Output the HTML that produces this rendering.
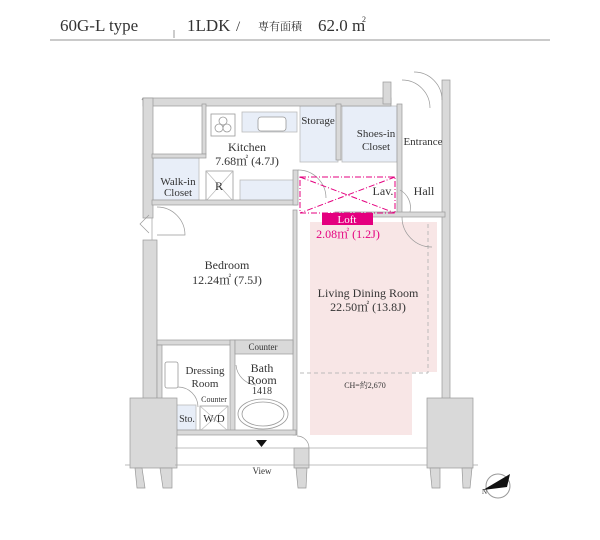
<!DOCTYPE html>
<html><head><meta charset="utf-8"><style>
html,body{margin:0;padding:0;background:#fff;}
svg{display:block;}
text{font-family:"Liberation Serif","Noto Serif CJK SC",serif;fill:#333;}
</style></head><body>
<svg width="600" height="540" viewBox="0 0 600 540" xmlns="http://www.w3.org/2000/svg">
<!-- header -->
<text x="60" y="31" font-size="17" fill="#444">60G-L type</text>
<line x1="174" y1="30" x2="174" y2="38" stroke="#999"/>
<text x="187" y="31" font-size="17">1LDK</text>
<text x="236" y="31" font-size="15">/</text>
<text x="258" y="30" font-size="11" font-family="'Noto Serif CJK SC',serif">専有面積</text>
<text x="318" y="31" font-size="17">62.0 m</text>
<text x="362" y="22" font-size="8">2</text>
<line x1="50" y1="40" x2="550" y2="40" stroke="#aaa" stroke-width="1.3"/>

<!-- LDR pink -->
<path d="M310 222 H437 V372 H412 V435 H310 Z" fill="#f8e6e6"/>
<path d="M300 373 H428 M428 224 V373" stroke="#bbb" stroke-dasharray="4,3" fill="none"/>

<!-- light blue fixtures -->
<g fill="#e8eef8" stroke="#bbb" stroke-width="0.8">
<rect x="153" y="158" width="46" height="42"/>
<rect x="242" y="112" width="55" height="20"/>
<rect x="240" y="180" width="57" height="22"/>
<rect x="300" y="106" width="38" height="56"/>
<rect x="342" y="106" width="55" height="56"/>
<rect x="176" y="405" width="20" height="25"/>
</g>
<g fill="#fff" stroke="#999" stroke-width="0.8">
<rect x="211" y="114" width="24" height="22"/>
<circle cx="219" cy="128" r="4"/><circle cx="227" cy="128" r="4"/><circle cx="223" cy="121" r="4"/>
<rect x="258" y="117" width="28" height="14" rx="3"/>
<rect x="206" y="171" width="27" height="30"/>
<rect x="200" y="406" width="28" height="25"/>
<rect x="165" y="362" width="13" height="26" rx="2"/>
<ellipse cx="263" cy="414" rx="25" ry="15"/>
<ellipse cx="263" cy="414" rx="21" ry="12"/>
</g>
<g stroke="#bbb" stroke-width="0.7">
<line x1="206" y1="171" x2="233" y2="201"/><line x1="233" y1="171" x2="206" y2="201"/>
<line x1="200" y1="406" x2="228" y2="431"/><line x1="228" y1="406" x2="200" y2="431"/>
</g>

<!-- walls -->
<g fill="#d9d9d9" stroke="#999" stroke-width="0.7">
<rect x="143" y="98" width="248" height="8"/>
<rect x="383" y="82" width="8" height="22"/>
<rect x="442" y="80" width="8" height="320"/>
<rect x="143" y="98" width="10" height="120"/>
<rect x="143" y="240" width="14" height="160"/>
<rect x="152" y="200" width="145" height="5"/>
<rect x="293" y="170" width="5" height="35"/>
<rect x="202" y="104" width="4" height="50"/>
<rect x="152" y="154" width="54" height="4"/>
<rect x="293" y="210" width="4" height="225"/>
<rect x="157" y="340" width="136" height="5"/>
<rect x="230" y="340" width="5" height="92"/>
<rect x="235" y="340" width="58" height="14"/>
<rect x="157" y="345" width="5" height="88"/>
<rect x="172" y="430" width="124" height="5"/>
<rect x="336" y="104" width="5" height="56"/>
<rect x="397" y="104" width="5" height="110"/>
<rect x="335" y="212" width="110" height="5"/>
<rect x="130" y="398" width="47" height="70"/>
<path d="M135 468 H142 L145 488 H137 Z M160 468 H172 L172 488 H163 Z"/>
<rect x="294" y="448" width="15" height="20"/>
<path d="M296 468 H307 L306 488 H298 Z"/>
<rect x="427" y="398" width="46" height="70"/>
<path d="M430 468 H440 L440 488 H432 Z M462 468 H472 L470 488 H463 Z"/>
</g>
<line x1="142" y1="100" x2="143" y2="98" stroke="#999"/>
<!-- window lines -->
<g stroke="#aaa" stroke-width="0.8">
<line x1="175" y1="448" x2="427" y2="448"/>
<line x1="175" y1="465" x2="427" y2="465"/>
<line x1="125" y1="465" x2="130" y2="465"/>
<line x1="473" y1="465" x2="478" y2="465"/>
<line x1="152" y1="240" x2="152" y2="218"/>
</g>
<!-- doors -->
<g fill="none" stroke="#999" stroke-width="0.7">
<path d="M157 207 A28 28 0 0 1 185 235 H157"/>
<path d="M298 170 A28 28 0 0 1 326 198"/>
<path d="M402 80 A28 28 0 0 1 430 108"/>
<path d="M442 100 A28 28 0 0 0 414 72"/>
<path d="M402 217 A30 30 0 0 0 432 247"/>
<path d="M400 190 A20 20 0 0 1 410 212"/>
<path d="M236 365 A22 22 0 0 0 256 385"/>
<path d="M178 387 A20 20 0 0 1 198 407"/>
<path d="M297 436 A12 12 0 0 1 309 448"/>
<path d="M149 215 L140 224 L149 233"/>
</g>
<!-- loft -->
<g stroke="#e4007f" stroke-width="1" fill="none" stroke-dasharray="6,2,1,2">
<rect x="300" y="177" width="95" height="36"/>
<line x1="300" y1="177" x2="395" y2="213"/><line x1="395" y1="177" x2="300" y2="213"/>
</g>
<rect x="322" y="213" width="51" height="12" fill="#e4007f"/>
<text x="347" y="223" font-size="11" text-anchor="middle" style="fill:#fff">Loft</text>
<text x="348" y="238" font-size="12" text-anchor="middle" style="fill:#e4007f">2.08㎡ (1.2J)</text>

<!-- labels -->
<g font-size="12" text-anchor="middle">
<text x="247" y="151">Kitchen</text>
<text x="247" y="165">7.68㎡ (4.7J)</text>
<text x="318" y="124" font-size="11">Storage</text>
<text x="376" y="137" font-size="11">Shoes-in</text>
<text x="376" y="150" font-size="11">Closet</text>
<text x="423" y="145" font-size="11">Entrance</text>
<text x="178" y="185" font-size="11">Walk-in</text>
<text x="178" y="196" font-size="11">Closet</text>
<text x="219" y="190">R</text>
<text x="383" y="195">Lav.</text>
<text x="424" y="195">Hall</text>
<text x="227" y="269">Bedroom</text>
<text x="227" y="284">12.24㎡ (7.5J)</text>
<text x="368" y="297">Living Dining Room</text>
<text x="368" y="311">22.50㎡ (13.8J)</text>
<text x="263" y="350" font-size="9">Counter</text>
<text x="205" y="374" font-size="11">Dressing</text>
<text x="205" y="387" font-size="11">Room</text>
<text x="262" y="372">Bath</text>
<text x="262" y="384">Room</text>
<text x="262" y="394" font-size="10">1418</text>
<text x="214" y="402" font-size="8">Counter</text>
<text x="187" y="422" font-size="10">Sto.</text>
<text x="214" y="422" font-size="11">W/D</text>
<text x="365" y="388" font-size="8" fill="#777">CH=約2,670</text>
<text x="262" y="474" font-size="9">View</text>
</g>
<path d="M256 440 H267 L261.5 447 Z" fill="#111"/>
<!-- compass -->
<circle cx="498" cy="486" r="12" fill="#fff" stroke="#999"/>
<path d="M483 490 L510 474 L507 487 Z" fill="#111"/>
<text x="482" y="494" font-size="7">N</text>
</svg>
</body></html>
